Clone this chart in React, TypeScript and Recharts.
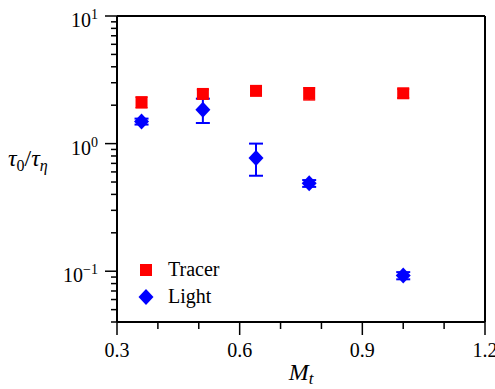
import {
  ErrorBar,
  Legend,
  ReferenceLine,
  Scatter,
  ScatterChart,
  XAxis,
  YAxis,
} from "recharts";

const FONT = "Liberation Serif";
const RED = "#ff0000";
const BLUE = "#0000ff";

// turbulent Mach number of each run
const machNumbers = [0.36, 0.51, 0.64, 0.77, 1.0];

// tau_0 / tau_eta for tracer particles
const tracerTau = [2.11, 2.45, 2.59, 2.47, 2.48];
const tracerErr = [0.2, 0.2, 0.18, 0.27, 0.2];

// tau_0 / tau_eta for light particles (asymmetric errors)
const lightTau = [1.49, 1.84, 0.77, 0.488, 0.0924];
const lightErrLow = [0.08, 0.39, 0.21, 0.03, 0.006];
const lightErrHigh = [0.08, 0.41, 0.23, 0.03, 0.006];

const xTicks = [0.3, 0.4, 0.5, 0.6, 0.7, 0.8, 0.9, 1.0, 1.1, 1.2];
const xLabelTicks = [0.3, 0.6, 0.9, 1.2];
const yTicks = [
  0.04, 0.05, 0.06, 0.07, 0.08, 0.09,
  0.1, 0.2, 0.3, 0.4, 0.5, 0.6, 0.7, 0.8, 0.9,
  1, 2, 3, 4, 5, 6, 7, 8, 9, 10,
];

const legendItems = [
  { label: "Tracer", color: RED, shape: "square" },
  { label: "Light", color: BLUE, shape: "diamond" },
];

const tracerData = machNumbers.map((m, i) => ({
  x: m,
  y: tracerTau[i],
  err: tracerErr[i],
}));

const lightData = machNumbers.map((m, i) => ({
  x: m,
  y: lightTau[i],
  err: [lightErrLow[i], lightErrHigh[i]],
}));

const textStyle = { fontFamily: FONT, fill: "#000" };

function XTick({ x, y, payload }: any) {
  const major = xLabelTicks.some((t) => Math.abs(t - payload.value) < 1e-6);
  return (
    <g>
      <line x1={x} x2={x} y1={y} y2={y + (major ? 13 : 7)} stroke="#000" strokeWidth={1.5} />
      {major && (
        <text x={x} y={y + 35} textAnchor="middle" fontSize={20} style={textStyle}>
          {payload.value.toFixed(1)}
        </text>
      )}
    </g>
  );
}

function YTick({ x, y, payload }: any) {
  const lg = Math.log10(payload.value);
  const exp = Math.round(lg);
  const major = Math.abs(lg - exp) < 1e-6;
  return (
    <g>
      <line x1={x} x2={x - (major ? 12 : 6)} y1={y} y2={y} stroke="#000" strokeWidth={1.5} />
      {major && (
        <text x={x - 19} y={y + 11} textAnchor="end" fontSize={20} style={textStyle}>
          10
          <tspan dy={-8} fontSize={14}>
            {exp < 0 ? `\u2212${-exp}` : exp}
          </tspan>
        </text>
      )}
    </g>
  );
}

function SquareDot({ cx, cy }: any) {
  return <rect x={cx - 6} y={cy - 6} width={12} height={12} fill={RED} />;
}

function DiamondDot({ cx, cy }: any) {
  return (
    <polygon
      points={`${cx},${cy - 8} ${cx + 7.5},${cy} ${cx},${cy + 8} ${cx - 7.5},${cy}`}
      fill={BLUE}
    />
  );
}

function YTitle({ viewBox }: any) {
  const cy = viewBox.y + viewBox.height / 2 - 3;
  return (
    <text x={8} y={cy} fontSize={24} style={textStyle}>
      <tspan fontStyle="italic">τ</tspan>
      <tspan fontSize={16} dy={5}>0</tspan>
      <tspan dy={-5}>/</tspan>
      <tspan fontStyle="italic">τ</tspan>
      <tspan fontSize={16} dy={5} fontStyle="italic">η</tspan>
    </text>
  );
}

function XTitle({ viewBox }: any) {
  const cx = viewBox.x + viewBox.width / 2;
  return (
    <text x={cx} y={viewBox.y + 58} textAnchor="middle" fontSize={24} style={textStyle}>
      <tspan fontStyle="italic">M</tspan>
      <tspan fontSize={17} dy={4} fontStyle="italic">t</tspan>
    </text>
  );
}

function LegendBox() {
  return (
    <div style={{ fontFamily: FONT, fontSize: 20, color: "#000" }}>
      {legendItems.map((item) => (
        <div key={item.label} style={{ display: "flex", alignItems: "center", height: 27 }}>
          <svg width={20} height={20} style={{ marginRight: 12 }}>
            {item.shape === "square" ? (
              <rect x={4} y={4} width={12} height={12} fill={item.color} />
            ) : (
              <polygon points="10,2 17.5,10 10,18 2.5,10" fill={item.color} />
            )}
          </svg>
          <span>{item.label}</span>
        </div>
      ))}
    </div>
  );
}

export default function App() {
  return (
    <div style={{ position: "absolute", left: 0, top: 0, background: "#fff", fontFamily: FONT }}>
      <ScatterChart width={495} height={389} margin={{ top: 16, right: 10, bottom: 0, left: 0 }}>
        <XAxis
          type="number"
          dataKey="x"
          domain={[0.3, 1.2]}
          ticks={xTicks}
          interval={0}
          allowDataOverflow
          height={67}
          tickSize={0}
          tickMargin={0}
          tick={<XTick />}
          axisLine={{ stroke: "#000", strokeWidth: 2 }}
          label={{ content: XTitle }}
        />
        <YAxis
          type="number"
          dataKey="y"
          scale="log"
          domain={[0.04, 10]}
          ticks={yTicks}
          interval={0}
          allowDataOverflow
          width={117}
          tickSize={0}
          tickMargin={0}
          tick={<YTick />}
          axisLine={{ stroke: "#000", strokeWidth: 2 }}
          label={{ content: YTitle }}
        />
        <ReferenceLine y={10} stroke="#000" strokeWidth={2} />
        <ReferenceLine x={1.2} stroke="#000" strokeWidth={2} />
        <Scatter name="Tracer" data={tracerData} shape={<SquareDot />} isAnimationActive={false}>
          <ErrorBar dataKey="err" direction="y" width={6} stroke={RED} strokeWidth={1.5} isAnimationActive={false} />
        </Scatter>
        <Scatter name="Light" data={lightData} shape={<DiamondDot />} isAnimationActive={false}>
          <ErrorBar dataKey="err" direction="y" width={7} stroke={BLUE} strokeWidth={2} isAnimationActive={false} />
        </Scatter>
        <Legend
          layout="vertical"
          align="center"
          verticalAlign="middle"
          content={<LegendBox />}
          wrapperStyle={{ left: 136, top: 256, width: 120, height: "auto" }}
        />
      </ScatterChart>
    </div>
  );
}
